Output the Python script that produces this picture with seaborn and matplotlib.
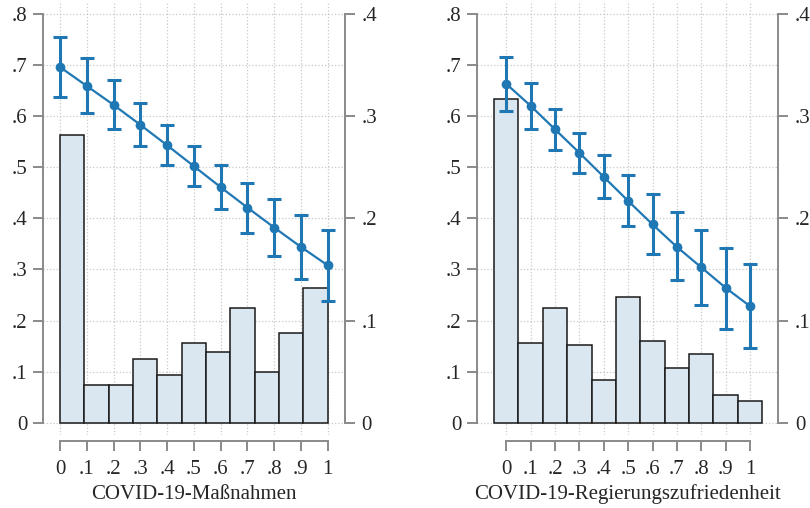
import numpy as np
import pandas as pd
import matplotlib
matplotlib.use("Agg")
import matplotlib.pyplot as plt
import seaborn as sns

# x positions of the predicted values (both panels)
x_vals = [0, .1, .2, .3, .4, .5, .6, .7, .8, .9, 1]

# panel 1: COVID-19-Massnahmen
mass_mean = [0.696, 0.659, 0.622, 0.583, 0.543, 0.502, 0.461, 0.421, 0.382, 0.344, 0.308]
mass_lo = [0.637, 0.606, 0.575, 0.541, 0.504, 0.463, 0.418, 0.372, 0.326, 0.281, 0.239]
mass_hi = [0.755, 0.713, 0.670, 0.626, 0.582, 0.541, 0.505, 0.470, 0.438, 0.406, 0.377]
mass_frac = [0.282, 0.037, 0.037, 0.062, 0.047, 0.078, 0.069, 0.112, 0.050, 0.088, 0.132]

# panel 2: COVID-19-Regierungszufriedenheit
reg_mean = [0.663, 0.620, 0.574, 0.528, 0.481, 0.434, 0.388, 0.344, 0.304, 0.264, 0.228]
reg_lo = [0.610, 0.574, 0.534, 0.489, 0.439, 0.385, 0.331, 0.279, 0.230, 0.184, 0.146]
reg_hi = [0.716, 0.665, 0.614, 0.566, 0.523, 0.484, 0.447, 0.412, 0.377, 0.342, 0.310]
reg_frac = [0.317, 0.078, 0.112, 0.076, 0.042, 0.123, 0.080, 0.054, 0.067, 0.027, 0.021]

left_ticks = [0, .1, .2, .3, .4, .5, .6, .7, .8]
left_labels = ['0', '.1', '.2', '.3', '.4', '.5', '.6', '.7', '.8']
right_ticks = [0, .1, .2, .3, .4]
right_labels = ['0', '.1', '.2', '.3', '.4']
x_labels = ['0', '.1', '.2', '.3', '.4', '.5', '.6', '.7', '.8', '.9', '1']

sns.set_style("white")
plt.rcParams['font.family'] = ['Liberation Serif', 'DejaVu Serif']

blue = '#1f77b4'
fill = '#dae6f0'
edge = '#1a1a1a'
gray = '#8a8a8a'
fs = 15


def panel(fig, rect, xlim, edges, fracs, mean, lo, hi, xlabel):
    # bottom axes: histogram (right scale), grid
    ax = fig.add_axes(rect)
    hist_df = pd.DataFrame({'x': (edges[:-1] + edges[1:]) / 2, 'frac': fracs})
    sns.histplot(data=hist_df, x='x', weights='frac', bins=list(edges), ax=ax,
                 color=fill, edgecolor=edge, linewidth=1.1, alpha=1)

    # top axes: predicted values with CI (left scale)
    ax2 = ax.twinx()
    m = np.array(mean)
    err = [m - np.array(lo), np.array(hi) - m]
    sns.lineplot(x=x_vals, y=mean, ax=ax2, color=blue, linewidth=1.6,
                 marker='o', markersize=7, markeredgewidth=0)
    ax2.errorbar(x_vals, mean, yerr=err, fmt='none', ecolor=blue,
                 elinewidth=2.2, capsize=5, capthick=2.2)

    ax.set_xlim(*xlim)
    ax.set_ylim(-0.012, 0.4117)
    ax.set_ylabel('')
    ax.set_xlabel(xlabel, fontsize=fs, labelpad=4)
    ax.yaxis.tick_right()
    ax.yaxis.set_label_position('right')
    ax.set_yticks(right_ticks, right_labels)
    ax.set_yticks([.05, .15, .25, .35], minor=True)
    ax.set_xticks(x_vals, x_labels)
    ax.grid(True, which='both', linestyle=':', color='#c8c8c8', linewidth=0.9)
    ax.set_axisbelow(True)
    ax.tick_params(axis='y', which='minor', length=0, right=False, left=False)
    ax.tick_params(axis='x', bottom=True, pad=7)
    ax.tick_params(axis='y', pad=5)
    ax.tick_params(axis='both', which='major', length=7, width=1.4, color=gray,
                   labelsize=fs)
    for s in ['top', 'left']:
        ax.spines[s].set_visible(False)
    ax.spines['right'].set_bounds(0, 0.4)
    ax.spines['bottom'].set_position(('outward', 4))
    ax.spines['bottom'].set_bounds(0, 1)
    for s in ['right', 'bottom']:
        ax.spines[s].set_color(gray)
        ax.spines[s].set_linewidth(1.4)

    ax2.yaxis.tick_left()
    ax2.set_ylim(-0.024, 0.8233)
    ax2.set_yticks(left_ticks, left_labels)
    ax2.set_ylabel('')
    ax2.tick_params(axis='y', length=7, width=1.4, color=gray, labelsize=fs, pad=4)
    for s in ['top', 'right', 'bottom']:
        ax2.spines[s].set_visible(False)
    ax2.spines['left'].set_visible(True)
    ax2.spines['left'].set_bounds(0, 0.8)
    ax2.spines['left'].set_color(gray)
    ax2.spines['left'].set_linewidth(1.4)
    return ax, ax2


fig = plt.figure(figsize=(8.1, 5.08), dpi=100)
W, H = 810, 508
bottom = 1 - 435 / H
height = (435 - 2) / H

edges1 = np.linspace(0, 1, 12)
edges2 = np.linspace(-0.05, 1.05, 12)

panel(fig, [43 / W, bottom, (345 - 43) / W, height], (-0.0635, 1.0646),
      edges1, mass_frac, mass_mean, mass_lo, mass_hi, 'COVID-19-Maßnahmen')
panel(fig, [476.7 / W, bottom, (778.3 - 476.7) / W, height], (-0.1215, 1.116),
      edges2, reg_frac, reg_mean, reg_lo, reg_hi, 'COVID-19-Regierungszufriedenheit')

fig.savefig('out.png', dpi=100)
